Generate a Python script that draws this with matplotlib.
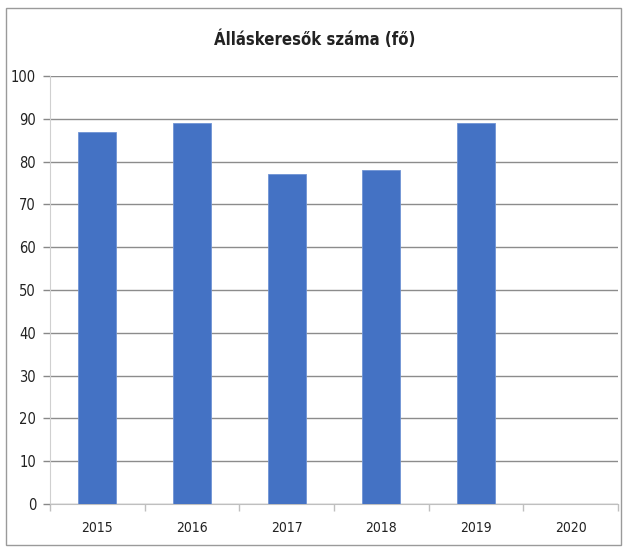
import matplotlib
matplotlib.use("Agg")
import matplotlib.pyplot as plt
from matplotlib.patches import Rectangle

# Adatok
years = ["2015", "2016", "2017", "2018", "2019", "2020"]
values = [87, 89, 77, 78, 89, 0]
yticks = [0, 10, 20, 30, 40, 50, 60, 70, 80, 90, 100]

plt.rcParams['font.family'] = ['DejaVu Sans']
plt.rcParams['font.stretch'] = 'condensed'

fig = plt.figure(figsize=(6.3, 5.48), dpi=100)
ax = fig.add_axes([50 / 630, 44 / 548, 568 / 630, 428 / 548])

x = range(len(years))
ax.bar(x, values, width=0.4, color='#4472C4', edgecolor='#6f93d4', linewidth=0.6, zorder=3)

ax.set_xlim(-0.5, len(years) - 0.5)
ax.set_ylim(0, 100)
ax.set_yticks(yticks)
ax.set_yticklabels([str(v) for v in yticks], fontsize=10.5, color='#222222', fontstretch='condensed')
ax.set_xticks(list(x))
ax.set_xticklabels(years, fontsize=10, color='#222222', fontstretch='condensed')

# Kategória-határok jelölése az x-tengelyen
ax.set_xticks([i - 0.5 for i in range(len(years) + 1)], minor=True)
ax.tick_params(axis='x', which='major', length=0, pad=12)
ax.tick_params(axis='x', which='minor', length=5, color='#bfbfbf', width=1)
ax.tick_params(axis='y', length=5, color='#888888', width=1, pad=5)

ax.grid(axis='y', color='#8c8c8c', linewidth=1, zorder=0)
for side in ['top', 'right']:
    ax.spines[side].set_visible(False)
ax.spines['left'].set_color('#d0d0d0')
ax.spines['bottom'].set_color('#bfbfbf')

fig.text(0.5, 1 - 40 / 548, "Álláskeresők száma (fő)", ha='center', va='center',
         fontsize=12, fontweight='bold', color='#222222', fontstretch='condensed')

# Külső keret
fig.patches.append(Rectangle((6 / 630, 3 / 548), 615 / 630, 537 / 548, transform=fig.transFigure,
                             fill=False, edgecolor='#9a9a9a', linewidth=1))

fig.savefig("out.png", dpi=100)
